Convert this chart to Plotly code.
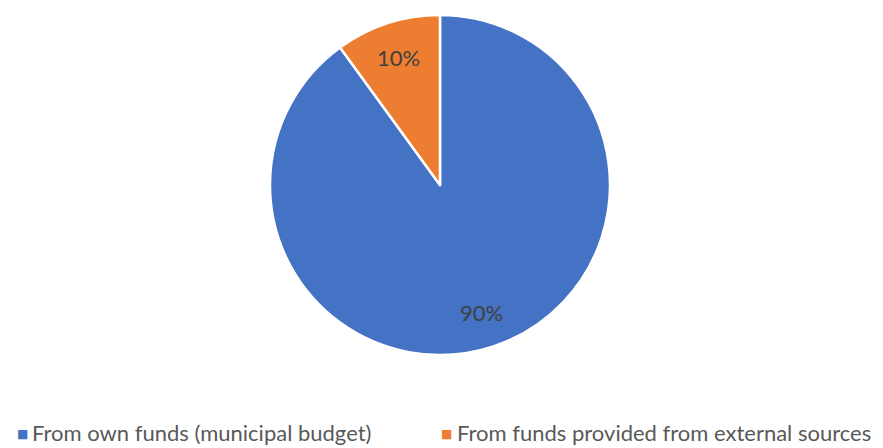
import math
import plotly.graph_objects as go

labels = ["From own funds (municipal budget)", "From funds provided from external sources"]
values = [90, 10]
colors = ["#4472C4", "#ED7D31"]

W, H = 883, 448
cx, cy, r = 440, 185, 170
FONT = "Lato, Carlito, sans-serif"

fig = go.Figure(go.Pie(
    labels=labels,
    values=values,
    sort=False,
    direction="clockwise",
    rotation=0,
    marker=dict(colors=colors, line=dict(color="white", width=2.5)),
    textinfo="none",
    domain=dict(x=[(cx - r) / W, (cx + r) / W], y=[(H - cy - r) / H, (H - cy + r) / H]),
    hoverinfo="label+percent",
    showlegend=False,
))

# percentage labels placed along each slice's mid-angle
total = sum(values)
start = 0.0
annotations = []
for v in values:
    frac = v / total
    mid = (start + frac / 2) * 2 * math.pi
    start += frac
    rr = 0.79 * r
    px = cx + rr * math.sin(mid)
    py = cy - rr * math.cos(mid)
    annotations.append(dict(
        x=px / W, y=1 - py / H, xref="paper", yref="paper",
        text=f"{round(frac * 100)}%", showarrow=False,
        font=dict(family=FONT, size=22, color="#404040"),
        xanchor="center", yanchor="middle",
    ))

# bottom legend
legend_x = [22, 447]
legend_y = 432
for lab, col, lx in zip(labels, colors, legend_x):
    annotations.append(dict(
        x=lx / W, y=1 - (legend_y + 2) / H, xref="paper", yref="paper",
        text="■", showarrow=False,
        font=dict(family="DejaVu Sans", size=12, color=col),
        xanchor="center", yanchor="middle",
    ))
    annotations.append(dict(
        x=(lx + 8) / W, y=1 - legend_y / H, xref="paper", yref="paper",
        text=lab, showarrow=False,
        font=dict(family=FONT, size=22, color="#595959"),
        xanchor="left", yanchor="middle",
    ))

fig.update_layout(
    width=W, height=H,
    margin=dict(l=0, r=0, t=0, b=0),
    paper_bgcolor="white",
    annotations=annotations,
)

fig.write_html("out.html")
